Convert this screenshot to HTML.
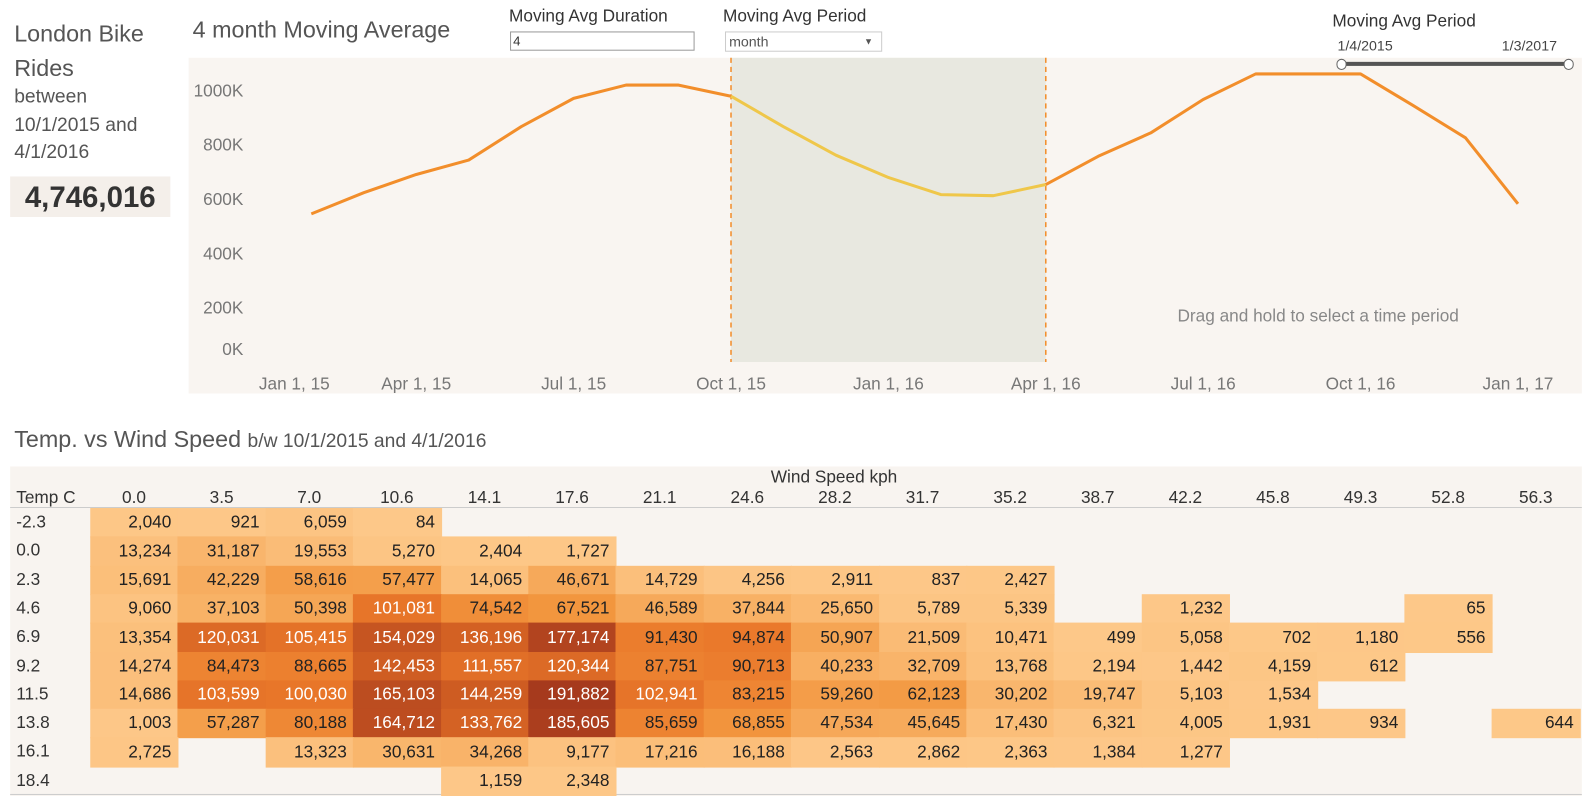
<!DOCTYPE html>
<html><head><meta charset="utf-8">
<style>
body{margin:0;width:1590px;height:804px;background:#fff;font-family:"Liberation Sans",sans-serif;overflow:hidden;position:relative;color:#333}
#wrap{position:absolute;left:0;top:0;width:1568px;height:793px;transform:scale(1.014);transform-origin:0 0}
.abs{position:absolute}
.t{white-space:nowrap}
</style></head><body>
<div id="wrap">
<svg class="abs" style="left:0;top:0" width="1590" height="400" id="lc"></svg>
<div class="abs t" style="left:14px;top:16px;font-size:23px;color:#555;line-height:34px">London Bike<br>Rides</div>
<div class="abs t" style="left:14px;top:82px;font-size:19px;color:#555;line-height:27.5px">between<br>10/1/2015 and<br>4/1/2016</div>
<div class="abs t" style="left:10px;top:174px;width:158px;height:40px;background:#f4efea;font-size:29px;font-weight:bold;color:#333;text-align:center;line-height:42px">4,746,016</div>
<div class="abs t" style="left:190px;top:16px;font-size:23px;color:#555">4 month Moving Average</div>
<div class="abs t" style="left:502px;top:6px;font-size:17px;color:#333">Moving Avg Duration</div>
<div class="abs" style="left:503px;top:31px;width:178px;height:17px;border:1px solid #999;background:#fff;font-size:13px;line-height:17px;padding-left:2px">4</div>
<div class="abs t" style="left:713px;top:6px;font-size:17px;color:#333">Moving Avg Period</div>
<div class="abs" style="left:715px;top:31px;width:150px;height:18px;border:1px solid #ccc;background:#fff;font-size:14px;line-height:18px;padding-left:3px;color:#555">month<span style="position:absolute;right:8px;font-size:9px">▼</span></div>
<div class="abs t" style="left:1314px;top:11px;font-size:17px;color:#333">Moving Avg Period</div>
<div class="abs t" style="left:1319px;top:37px;font-size:14px;color:#444">1/4/2015</div>
<div class="abs t" style="left:1481px;top:37px;font-size:14px;color:#444">1/3/2017</div>
<div class="abs" style="left:1322px;top:61px;width:226px;height:4px;background:#555"></div>
<div class="abs" style="left:1318px;top:58px;width:8px;height:9px;border:1px solid #666;border-radius:5px;background:#fff"></div>
<div class="abs" style="left:1542px;top:58px;width:8px;height:9px;border:1px solid #666;border-radius:5px;background:#fff"></div>

<div class="abs t" style="left:14px;top:420px;font-size:23px;color:#555">Temp. vs Wind Speed <span style="font-size:19px">b/w 10/1/2015 and 4/1/2016</span></div>
<div class="abs" id="hm" style="left:10px;top:460px;width:1550px;height:325px;background:#f8f4f0"></div>
</div>
<script>
const months=["Feb 15","Mar 15","Apr 15","May 15","Jun 15","Jul 15","Aug 15","Sep 15","Oct 15","Nov 15","Dec 15","Jan 16","Feb 16","Mar 16","Apr 16","May 16","Jun 16","Jul 16","Aug 16","Sep 16","Oct 16","Nov 16","Dec 16","Jan 17"];
const movingAvg=[545,623,690,743,866,970,1019,1019,978,866,761,679,616,612,653,757,843,966,1060,1060,1060,944,825,582];
const yTicks=[0,200,400,600,800,1000];
const xTickLabels=["Jan 1, 15","Apr 1, 15","Jul 1, 15","Oct 1, 15","Jan 1, 16","Apr 1, 16","Jul 1, 16","Oct 1, 16","Jan 1, 17"];
const xTickIdx=[-1,2,5,8,11,14,17,20,23];
const selStart=8, selEnd=14;
const NS="http://www.w3.org/2000/svg";
const svg=document.getElementById('lc');
const X=i=>307+i*(1497-307)/23;
const Y=v=>357-v*0.268;
function mk(t,a){const e=document.createElementNS(NS,t);for(const k in a)e.setAttribute(k,a[k]);svg.appendChild(e);return e;}
let e=mk('rect',{x:186,y:57,width:1374,height:331,fill:'#f9f5f1'});

e=mk('rect',{x:X(selStart),y:57,width:X(selEnd)-X(selStart),height:300,fill:'#e8e8e0'});

[selStart,selEnd].forEach(i=>{const l=mk('line',{x1:X(i),x2:X(i),y1:57,y2:357,stroke:'#f28e2b','stroke-width':1.5,'stroke-dasharray':'5,4'});
});
yTicks.forEach(v=>{const t=mk('text',{x:240,y:(v==0?Y(v)-13:Y(v))+6,'text-anchor':'end','font-size':17,fill:'#777'});t.textContent=v+'K';
});
xTickLabels.forEach((s,k)=>{const t=mk('text',{x:X(xTickIdx[k])+(k==0?35:0),y:384,'text-anchor':'middle','font-size':17,fill:'#777'});t.textContent=s;
});
function seg(a,b,col,name){let d='';for(let i=a;i<=b;i++)d+=(i==a?'M':'L')+X(i)+','+Y(movingAvg[i]);
const p=mk('path',{d:d,fill:'none',stroke:col,'stroke-width':3,'stroke-linejoin':'round'});}
seg(0,selStart,'#f28e2b','line-before-selection');
seg(selStart,selEnd,'#efc74a','line-selected');
seg(selEnd,movingAvg.length-1,'#f28e2b','line-after-selection');
e=mk('text',{x:1300,y:317,'text-anchor':'middle','font-size':17,fill:'#888'});e.textContent='Drag and hold to select a time period';


const windSpeeds=["0.0","3.5","7.0","10.6","14.1","17.6","21.1","24.6","28.2","31.7","35.2","38.7","42.2","45.8","49.3","52.8","56.3"];
const temps=["-2.3","0.0","2.3","4.6","6.9","9.2","11.5","13.8","16.1","18.4"];
const r0=[2040,921,6059,84];
const r1=[13234,31187,19553,5270,2404,1727];
const r2=[15691,42229,58616,57477,14065,46671,14729,4256,2911,837,2427];
const r3=[9060,37103,50398,101081,74542,67521,46589,37844,25650,5789,5339,null,1232,null,null,65];
const r4=[13354,120031,105415,154029,136196,177174,91430,94874,50907,21509,10471,499,5058,702,1180,556];
const r5=[14274,84473,88665,142453,111557,120344,87751,90713,40233,32709,13768,2194,1442,4159,612];
const r6=[14686,103599,100030,165103,144259,191882,102941,83215,59260,62123,30202,19747,5103,1534];
const r7=[1003,57287,80188,164712,133762,185605,85659,68855,47534,45645,17430,6321,4005,1931,934,null,644];
const r8=[2725,null,13323,30631,34268,9177,17216,16188,2563,2862,2363,1384,1277];
const r9=[null,null,null,null,1159,2348];
const rides=[r0,r1,r2,r3,r4,r5,r6,r7,r8,r9];
const hm=document.getElementById('hm');
const CX=79,CW=86.4,RY=41,RH=28.3;
const stops=[[0,[253,200,137]],[0.2,[248,177,101]],[0.35,[242,150,62]],[0.5,[234,120,42]],[0.75,[206,92,34]],[1,[166,58,29]]];
function col(v){const t=Math.min(1,v/191882);for(let i=1;i<stops.length;i++){if(t<=stops[i][0]){const a=stops[i-1],b=stops[i];const f=(t-a[0])/(b[0]-a[0]);return 'rgb('+a[1].map((c,k)=>Math.round(c+(b[1][k]-c)*f)).join(',')+')';}}}
function div(css,txt){const d=document.createElement('div');d.className='abs t';d.style.cssText=css;if(txt!=null)d.textContent=txt;hm.appendChild(d);return d;}
let d=div('left:0;width:1550px;top:1px;text-align:center;font-size:17px;color:#333;text-indent:75px','Wind Speed kph');

d=div('left:6px;top:21px;font-size:17px;color:#333','Temp C');

d=div('left:0;top:40px;width:1550px;height:1px;background:#ccc');

d=div('left:0;top:323px;width:1550px;height:1px;background:#ccc');

windSpeeds.forEach((w,j)=>{const c=div('left:'+(CX+j*CW)+'px;width:'+CW+'px;top:21px;text-align:center;font-size:17px;color:#333',w);
});
temps.forEach((tp,i)=>{const top=Math.round(RY+i*RH),h=Math.round(RY+(i+1)*RH)-top+1;
const c=div('left:6px;top:'+(top+4)+'px;font-size:17px;color:#333',tp);

rides[i].forEach((v,j)=>{if(v==null)return;
const l=Math.round(CX+j*CW),w=Math.round(CX+(j+1)*CW)-l+1;
const cell=div('left:'+l+'px;width:'+(w-7)+'px;padding-right:7px;top:'+top+'px;height:'+h+'px;line-height:'+(h-1)+'px;text-align:right;font-size:17px;background:'+col(v)+';color:'+(v>=100000?'#fff':'#222'),v.toLocaleString('en-US'));

});});
</script>
</body></html>
